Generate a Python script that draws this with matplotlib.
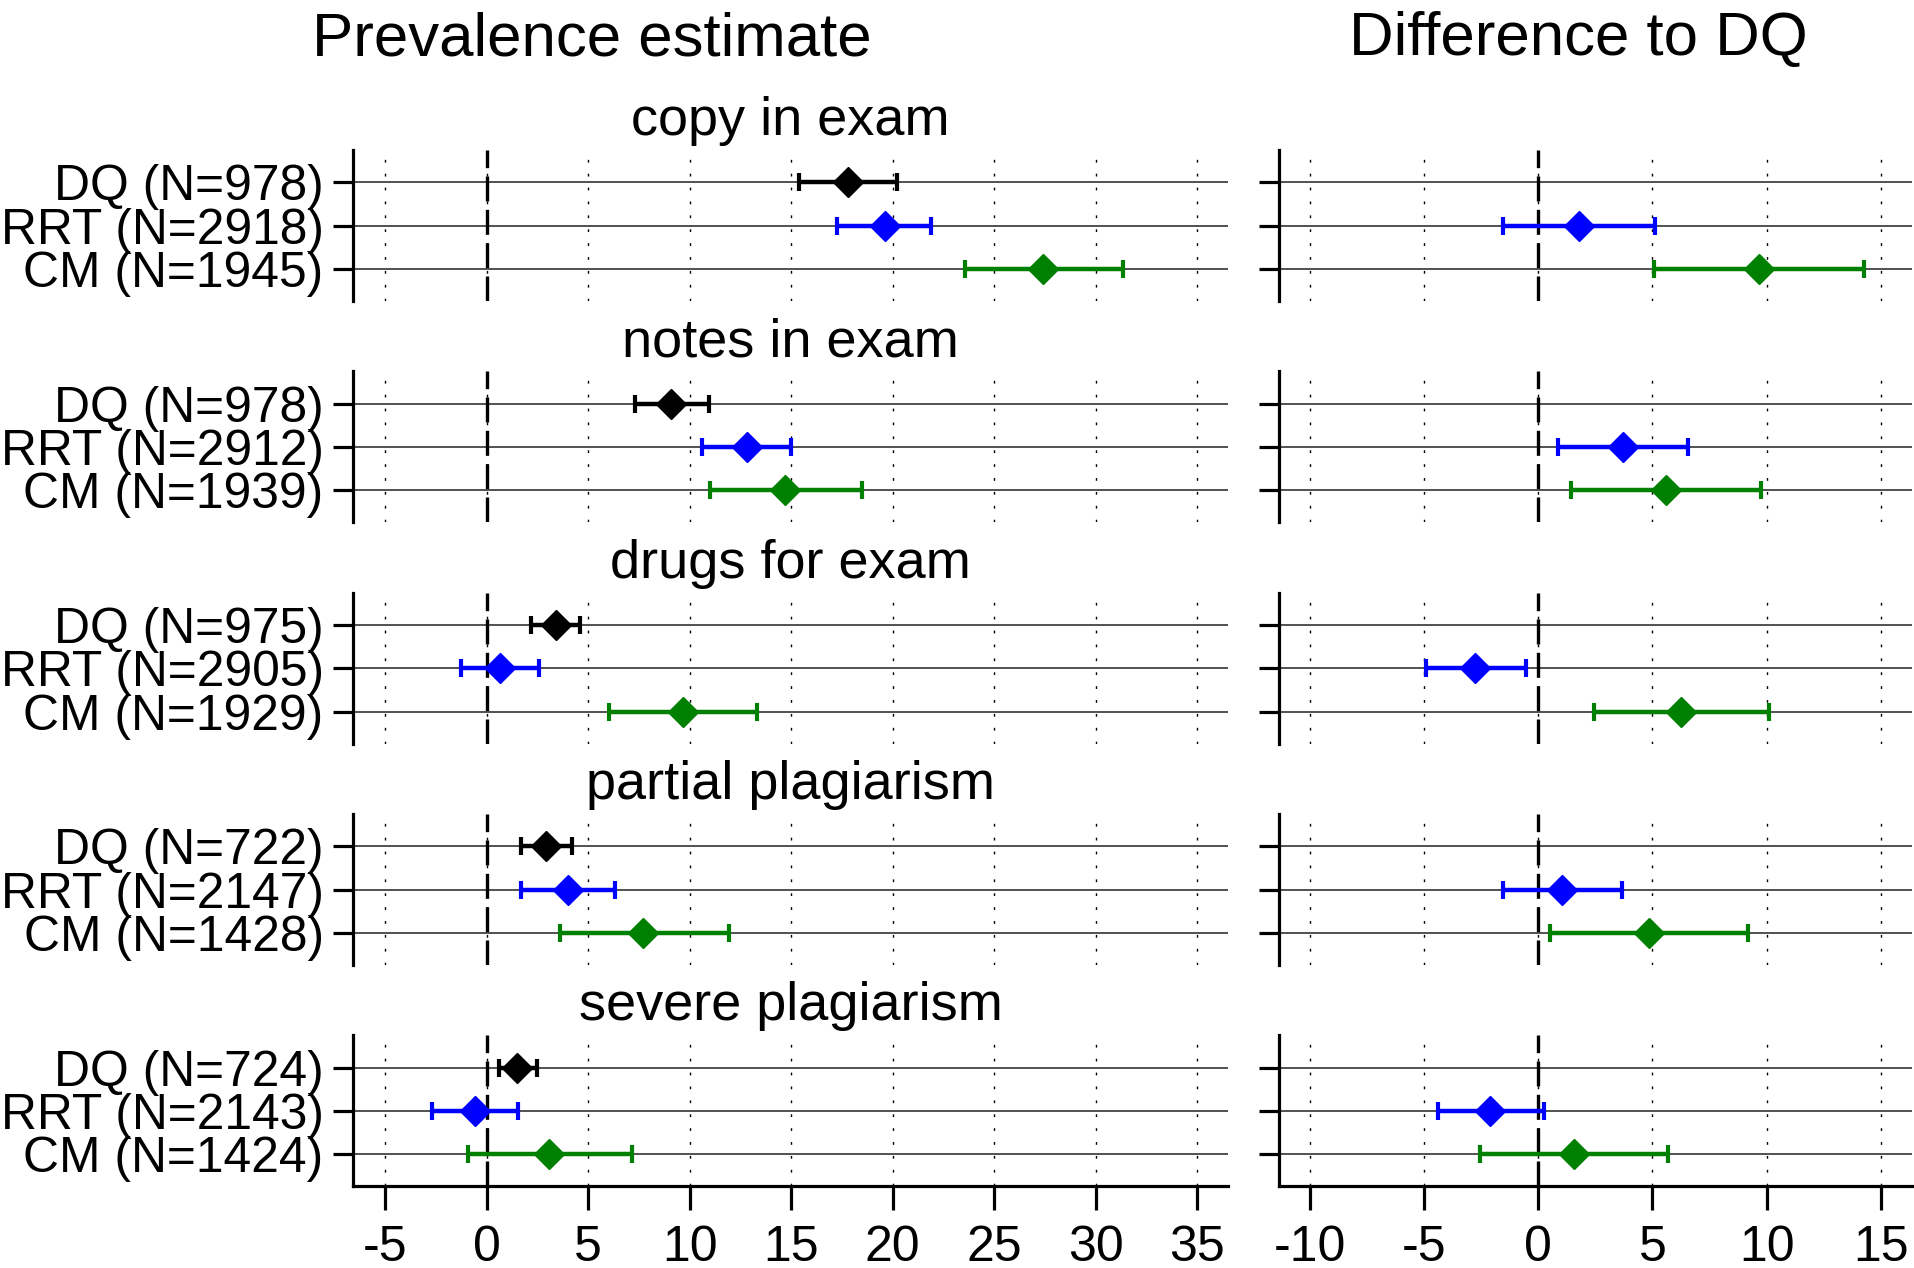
import matplotlib
matplotlib.use("Agg")
import matplotlib.pyplot as plt
import numpy as np

plt.rcParams['font.family'] = ['Liberation Sans', 'DejaVu Sans']

# data
items = ["copy in exam", "notes in exam", "drugs for exam",
         "partial plagiarism", "severe plagiarism"]
methods = ["DQ", "RRT", "CM"]
colors = ["black", "blue", "green"]
n_obs = [[978, 2918, 1945],
         [978, 2912, 1939],
         [975, 2905, 1929],
         [722, 2147, 1428],
         [724, 2143, 1424]]

# prevalence estimate (point, lower, upper) per item, rows DQ / RRT / CM
prev_est = [[17.8, 19.6, 27.4],
            [9.1, 12.8, 14.7],
            [3.4, 0.65, 9.65],
            [2.9, 4.0, 7.7],
            [1.5, -0.57, 3.05]]
prev_lo = [[15.4, 17.25, 23.55],
           [7.3, 10.6, 11.0],
           [2.2, -1.25, 6.0],
           [1.7, 1.7, 3.6],
           [0.6, -2.7, -0.95]]
prev_hi = [[20.2, 21.9, 31.35],
           [10.95, 15.0, 18.5],
           [4.6, 2.55, 13.3],
           [4.2, 6.3, 11.95],
           [2.45, 1.55, 7.15]]

# difference to DQ, only RRT and CM
diff_est = [[1.8, 9.65],
            [3.7, 5.6],
            [-2.75, 6.25],
            [1.05, 4.85],
            [-2.1, 1.55]]
diff_lo = [[-1.55, 5.05],
           [0.85, 1.45],
           [-4.9, 2.45],
           [-1.55, 0.5],
           [-4.4, -2.55]]
diff_hi = [[5.1, 14.25],
           [6.55, 9.75],
           [-0.55, 10.1],
           [3.65, 9.2],
           [0.25, 5.7]]

W, H = 1915, 1268
fig = plt.figure(figsize=(W / 100, H / 100), dpi=100)


def px_axes(x0, x1, top, height):
    return fig.add_axes([x0 / W, 1 - (top + height) / H, (x1 - x0) / W, height / H])


def style(ax, xticks, xlim, bottom):
    ax.set_xlim(xlim)
    ax.set_ylim(3.745, 0.25)
    for s in ["top", "right"]:
        ax.spines[s].set_visible(False)
    ax.spines["left"].set_linewidth(2.3)
    ax.spines["bottom"].set_linewidth(2.3)
    ax.spines["bottom"].set_visible(bottom)
    for x in xticks:
        ax.axvline(x, color="black", lw=1, ls=(0, (2, 8)), zorder=1)
    ax.axvline(0, color="black", lw=2.4, ls=(0, (7.5, 2.5)), zorder=2)
    for y in [1, 2, 3]:
        ax.axhline(y, color="#222222", lw=1.1, zorder=1)
    ax.set_xticks(xticks)
    ax.tick_params(axis="y", length=14.5, width=2.3, pad=7, labelsize=35.8)
    if bottom:
        ax.set_xticklabels([str(x) for x in xticks])
        ax.tick_params(axis="x", length=17, width=2.3, pad=11, labelsize=36)
    else:
        ax.tick_params(axis="x", bottom=False, labelbottom=False)


left_x = (353.5, 1227.5)
right_x = (1278.7, 1912)
top0 = 150
step = 221.35
height = 151

for i, item in enumerate(items):
    top = top0 + i * step
    last = i == len(items) - 1

    ax = px_axes(left_x[0], left_x[1], top, height)
    style(ax, [-5, 0, 5, 10, 15, 20, 25, 30, 35], (-6.57, 36.5), last)
    for j in range(3):
        c = prev_est[i][j]
        ax.errorbar(c, j + 1, xerr=[[c - prev_lo[i][j]], [prev_hi[i][j] - c]],
                    fmt="D", color=colors[j], ms=15, elinewidth=3.2,
                    capsize=6.5, capthick=3, zorder=5)
    ax.set_yticks([1, 2, 3])
    ax.set_yticklabels(["%s (N=%d)" % (m, n) for m, n in zip(methods, n_obs[i])])
    ax.text(0.5, 1 + 15 / height, item, transform=ax.transAxes,
            ha="center", va="baseline", fontsize=39)

    ax2 = px_axes(right_x[0], right_x[1], top, height)
    style(ax2, [-10, -5, 0, 5, 10, 15], (-11.36, 16.36), last)
    for j in range(2):
        c = diff_est[i][j]
        ax2.errorbar(c, j + 2, xerr=[[c - diff_lo[i][j]], [diff_hi[i][j] - c]],
                     fmt="D", color=colors[j + 1], ms=15, elinewidth=3.2,
                     capsize=6.5, capthick=3, zorder=5)
    ax2.set_yticks([1, 2, 3])
    ax2.set_yticklabels([])

fig.text(592 / W, 1 - 55 / H, "Prevalence estimate", ha="center",
         va="baseline", fontsize=44.5)
fig.text(1578 / W, 1 - 55 / H, "Difference to DQ", ha="center",
         va="baseline", fontsize=44.5)

fig.savefig("out.png", dpi=100)
